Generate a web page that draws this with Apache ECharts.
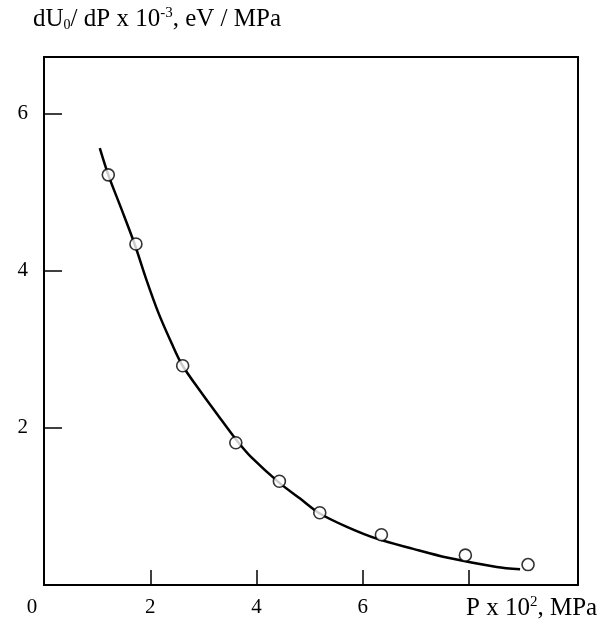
<!DOCTYPE html>
<html><head><meta charset="utf-8">
<script src="https://cdn.jsdelivr.net/npm/echarts@6/dist/echarts.min.js"></script>
<style>html,body{margin:0;padding:0;background:#fff}#c{width:607px;height:632px}</style>
</head><body><div id="c"></div>
<script>
// Measured points (P x 10^2 MPa, dU/dP x 10^-3 eV/MPa)
const pointsX = [1.21, 1.73, 2.61, 3.61, 4.43, 5.19, 6.35, 7.93, 9.11];
const pointsY = [5.22, 4.34, 2.79, 1.81, 1.32, 0.92, 0.64, 0.38, 0.26];
// Fitted curve
const curveX = [1.05, 1.21, 1.46, 1.71, 1.92, 2.15, 2.40, 2.60, 2.97, 3.34, 3.64, 3.91, 4.43, 4.82, 5.19, 5.70, 6.26, 6.95, 7.58, 8.52, 8.96];
const curveY = [5.56, 5.22, 4.78, 4.33, 3.90, 3.47, 3.08, 2.80, 2.44, 2.10, 1.83, 1.62, 1.30, 1.10, 0.91, 0.74, 0.59, 0.46, 0.35, 0.23, 0.20];
const xTickLabels = ['0', '2', '4', '6'];
const xTickValues = [2, 4, 6, 8];
const yTickLabels = ['2', '4', '6'];
const yTickValues = [2, 4, 6];

const FONT = '"Liberation Serif", "Times New Roman", serif';
const chart = echarts.init(document.getElementById('c'), null, {renderer: 'canvas'});
chart.setOption({
  animation: false,
  backgroundColor: '#fff',
  title: [
    {
      left: 33, top: 6, padding: 0,
      text: '{a|dU}{s|0}{a|/ dP x 10}{p|-3}{a|, eV / MPa}',
      textStyle: {
        fontWeight: 'normal',
        rich: {
          a: {fontFamily: FONT, fontSize: 25, fontWeight: 'normal', color: '#000'},
          s: {fontFamily: FONT, fontSize: 14, fontWeight: 'normal', color: '#000', padding: [11, 0, 0, 0]},
          p: {fontFamily: FONT, fontSize: 15, fontWeight: 'normal', color: '#000', padding: [0, 0, 12, 0]}
        }
      }
    },
    {
      left: 466, top: 595, padding: 0,
      text: '{a|P x 10}{p|2}{a|, MPa}',
      textStyle: {
        fontWeight: 'normal',
        rich: {
          a: {fontFamily: FONT, fontSize: 25, fontWeight: 'normal', color: '#000'},
          p: {fontFamily: FONT, fontSize: 15, fontWeight: 'normal', color: '#000', padding: [0, 0, 12, 0]}
        }
      }
    }
  ],
  grid: {left: 44, right: 29, top: 57, bottom: 47, show: true, borderColor: '#000', borderWidth: 2},
  xAxis: {
    type: 'value', min: 0, max: 10.05, interval: 2,
    axisLine: {show: true, lineStyle: {color: '#000', width: 2}},
    axisTick: {show: true, inside: true, length: 15, customValues: xTickValues, lineStyle: {color: '#000', width: 1.5}},
    splitLine: {show: false},
    axisLabel: {
      margin: 12, fontFamily: FONT, fontSize: 21, color: '#000',
      customValues: xTickLabels.map(Number),
      formatter: function (v) {
        const s = String(v);
        if (s === '0') return '{z|0}';
        return xTickLabels.indexOf(s) >= 0 ? s : '';
      },
      rich: {z: {fontFamily: FONT, fontSize: 21, color: '#000', padding: [0, 24, 0, 0]}}
    }
  },
  yAxis: {
    type: 'value', min: 0, max: 6.72, interval: 2,
    axisLine: {show: true, lineStyle: {color: '#000', width: 2}},
    axisTick: {show: true, inside: true, length: 18, customValues: yTickValues, lineStyle: {color: '#000', width: 1.5}},
    splitLine: {show: false},
    axisLabel: {
      margin: 16, fontFamily: FONT, fontSize: 21, color: '#000',
      customValues: yTickValues,
      formatter: function (v) { const s = String(v); return yTickLabels.indexOf(s) >= 0 ? s : ''; }
    }
  },
  series: [
    {
      type: 'line', smooth: 0.3, showSymbol: false,
      data: curveX.map((x, i) => [x, curveY[i]]),
      lineStyle: {color: '#000', width: 2.5}, z: 2
    },
    {
      type: 'scatter', symbol: 'circle', symbolSize: 12,
      data: pointsX.map((x, i) => [x, pointsY[i]]),
      itemStyle: {color: '#fff', borderColor: '#000', borderWidth: 1.6}, z: 3
    }
  ]
});
</script>
</body></html>
